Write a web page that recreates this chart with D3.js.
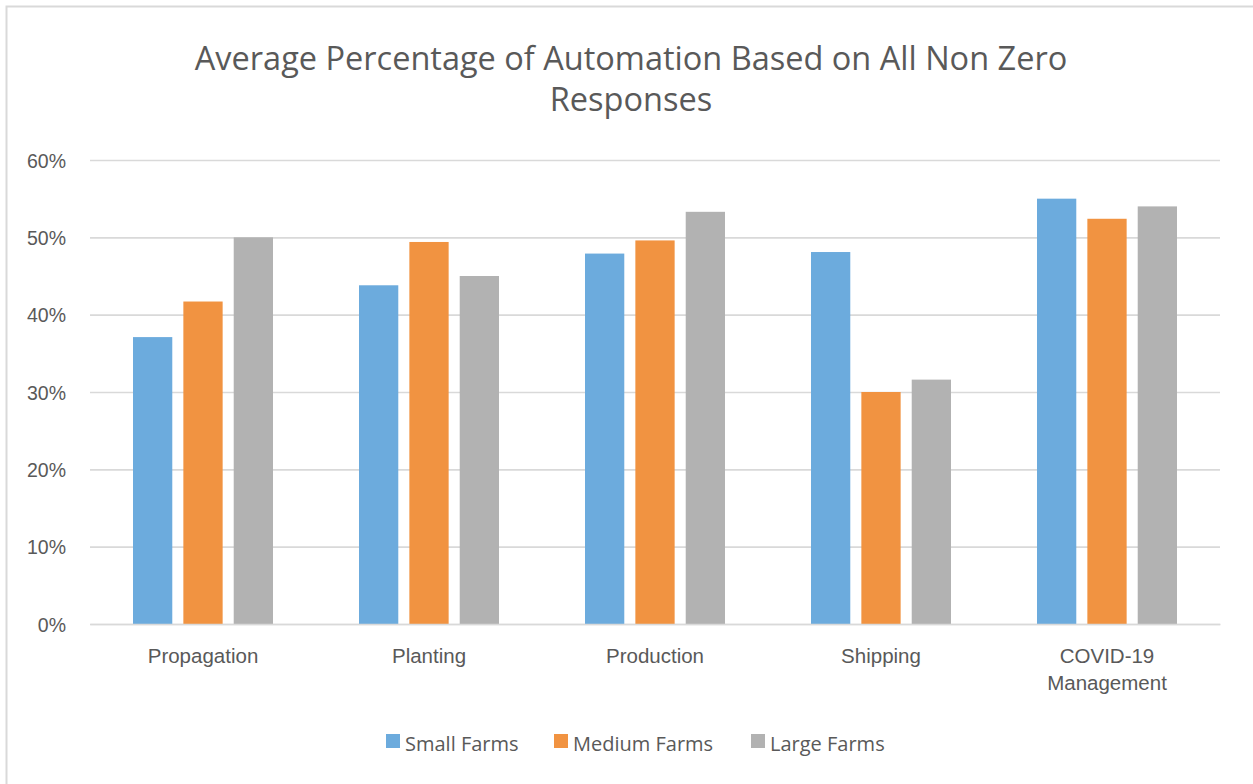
<!DOCTYPE html>
<html>
<head>
<meta charset="utf-8">
<script src="https://cdn.jsdelivr.net/npm/d3@7"></script>
<style>
  html, body { margin: 0; padding: 0; background: #ffffff; }
  svg { display: block; font-family: "Open Sans", "Noto Sans", sans-serif; }
</style>
</head>
<body>
<svg id="chart" width="1253" height="784"></svg>
<script>
// Average automation share by farm size and activity
const categories = ["Propagation", "Planting", "Production", "Shipping", "COVID-19 Management"];
const categoryLines = [["Propagation"], ["Planting"], ["Production"], ["Shipping"], ["COVID-19", "Management"]];
const seriesNames = ["Small Farms", "Medium Farms", "Large Farms"];
const smallFarms  = [0.371, 0.438, 0.479, 0.481, 0.550];
const mediumFarms = [0.417, 0.494, 0.496, 0.300, 0.524];
const largeFarms  = [0.500, 0.450, 0.533, 0.316, 0.540];
const yTicks = [0, 0.1, 0.2, 0.3, 0.4, 0.5, 0.6];
const colors = ["#6cabdd", "#f19341", "#b2b2b2"];

const series = [smallFarms, mediumFarms, largeFarms];

const svg = d3.select("#chart");
const W = 1253, H = 784;

// chart area border
svg.append("rect")
  .attr("x", 6.5).attr("y", 6.5)
  .attr("width", W + 10).attr("height", H + 10)
  .attr("fill", "#ffffff")
  .attr("stroke", "#d9d9d9").attr("stroke-width", 2);

const plot = { left: 90, right: 1220, top: 160, bottom: 624 };

const x = d3.scaleBand()
  .domain(categories)
  .range([plot.left, plot.right])
  .paddingInner(0)
  .paddingOuter(0);

const groupWidth = 140;
const xs = d3.scaleBand()
  .domain(seriesNames)
  .range([0, groupWidth])
  .paddingInner(0.22)
  .paddingOuter(0);

const y = d3.scaleLinear().domain([0, 0.6]).range([plot.bottom, plot.top]);

// gridlines and value labels
const yAxis = d3.axisLeft(y).tickValues(yTicks).tickFormat(d3.format(".0%"))
  .tickSize(-(plot.right - plot.left)).tickPadding(24);
const gy = svg.append("g")
  .attr("transform", `translate(${plot.left},0)`)
  .call(yAxis);
gy.select(".domain").remove();
gy.selectAll(".tick line").attr("stroke", "#d9d9d9").attr("stroke-width", 1.6);
gy.selectAll(".tick text")
  .attr("fill", "#595959")
  .attr("font-size", 19.5)
  .attr("dy", "0.36em");

// bars
const groups = svg.append("g").selectAll("g")
  .data(categories)
  .join("g")
  .attr("transform", d => `translate(${x(d) + (x.bandwidth() - groupWidth) / 2},0)`);

groups.selectAll("rect")
  .data((d, i) => series.map((s, k) => ({ name: seriesNames[k], value: s[i], k })))
  .join("rect")
  .attr("x", d => xs(d.name))
  .attr("width", xs.bandwidth())
  .attr("y", d => y(d.value))
  .attr("height", d => y(0) - y(d.value))
  .attr("fill", d => colors[d.k]);

// category axis
const xAxis = d3.axisBottom(x).tickSize(0).tickFormat("");
const gx = svg.append("g")
  .attr("transform", `translate(0,${plot.bottom})`)
  .call(xAxis);
gx.select(".domain").attr("stroke", "#d9d9d9").attr("stroke-width", 1.6);

gx.selectAll(".tick").each(function (d, i) {
  const t = d3.select(this).append("text")
    .attr("fill", "#595959")
    .attr("font-size", 20.5)
    .attr("text-anchor", "middle");
  categoryLines[i].forEach((line, j) => {
    t.append("tspan").attr("x", 0).attr("y", 39 + j * 27).text(line);
  });
});

// title
const title = svg.append("text")
  .attr("x", 631)
  .attr("fill", "#595959")
  .attr("font-size", 32.5)
  .attr("text-anchor", "middle");
title.append("tspan").attr("x", 631).attr("y", 70).text("Average Percentage of Automation Based on All Non Zero");
title.append("tspan").attr("x", 631).attr("y", 111).text("Responses");

// legend
const legendX = [386, 554, 751];
const legend = svg.append("g").selectAll("g")
  .data(seriesNames)
  .join("g")
  .attr("transform", (d, i) => `translate(${legendX[i]},734)`);
legend.append("rect")
  .attr("width", 14).attr("height", 14)
  .attr("fill", (d, i) => colors[i]);
legend.append("text")
  .attr("x", 19).attr("y", 17)
  .attr("fill", "#595959")
  .attr("font-size", 20)
  .text(d => d);
</script>
</body>
</html>
